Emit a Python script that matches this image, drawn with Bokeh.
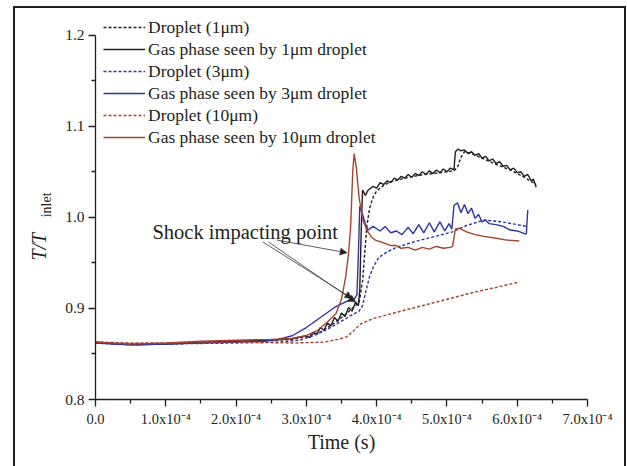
import numpy as np
from bokeh.plotting import figure
from bokeh.layouts import row
from bokeh.models import (Legend, LegendItem, Label, Arrow, NormalHead,
                          FixedTicker, CustomJSTickFormatter, Range1d)
from bokeh.embed import file_html
from bokeh.resources import INLINE

# ---------------- data (time in units of 1e-4 s) ----------------
t_gas1 = [0.00, 0.30, 0.60, 1.00, 1.50, 2.00, 2.50, 2.80, 3.00, 3.05, 3.10, 3.15, 3.20, 3.25,
          3.30, 3.35, 3.40, 3.45, 3.50, 3.55, 3.60, 3.65, 3.70, 3.74, 3.76, 3.78, 3.80, 3.84,
          3.88, 3.95, 4.00, 4.05, 4.10, 4.15, 4.20, 4.25, 4.30, 4.35, 4.40, 4.45, 4.50, 4.55,
          4.60, 4.65, 4.70, 4.75, 4.80, 4.85, 4.90, 4.95, 5.00, 5.05, 5.10, 5.12, 5.16, 5.20,
          5.25, 5.30, 5.35, 5.40, 5.45, 5.50, 5.55, 5.60, 5.65, 5.70, 5.75, 5.80, 5.85, 5.90,
          5.95, 6.00, 6.05, 6.10, 6.15, 6.20, 6.23, 6.27]
v_gas1 = [0.863, 0.861, 0.860, 0.861, 0.863, 0.864, 0.865, 0.867, 0.870, 0.868, 0.874, 0.871,
          0.879, 0.876, 0.884, 0.881, 0.890, 0.886, 0.895, 0.891, 0.901, 0.897, 0.907, 0.903,
          0.920, 0.985, 1.030, 1.024, 1.030, 1.034, 1.032, 1.038, 1.036, 1.040, 1.038, 1.043,
          1.041, 1.045, 1.043, 1.047, 1.044, 1.048, 1.046, 1.050, 1.047, 1.051, 1.048, 1.052,
          1.049, 1.053, 1.050, 1.054, 1.052, 1.072, 1.075, 1.073, 1.074, 1.070, 1.072, 1.068,
          1.070, 1.065, 1.067, 1.062, 1.064, 1.059, 1.061, 1.056, 1.057, 1.052, 1.054, 1.049,
          1.050, 1.045, 1.047, 1.040, 1.042, 1.033]

t_drop1 = [0.00, 0.30, 0.60, 1.00, 1.50, 2.00, 2.50, 2.80, 3.00, 3.20, 3.40, 3.55, 3.65, 3.75,
           3.80, 3.83, 3.86, 3.90, 3.95, 4.00, 4.10, 4.20, 4.40, 4.60, 4.80, 5.00, 5.10, 5.15,
           5.20, 5.25, 5.35, 5.50, 5.70, 5.90, 6.10, 6.27]
v_drop1 = [0.863, 0.862, 0.861, 0.861, 0.862, 0.864, 0.865, 0.866, 0.869, 0.874, 0.884, 0.893,
           0.900, 0.906, 0.930, 0.960, 0.990, 1.010, 1.022, 1.029, 1.035, 1.039, 1.043, 1.046,
           1.048, 1.050, 1.051, 1.055, 1.066, 1.072, 1.070, 1.065, 1.058, 1.052, 1.044, 1.036]

t_gas3 = [0.00, 0.50, 1.00, 1.50, 2.00, 2.40, 2.60, 2.80, 3.00, 3.20, 3.40, 3.55, 3.68, 3.72,
          3.74, 3.76, 3.80, 3.85, 3.88, 3.95, 4.05, 4.12, 4.20, 4.28, 4.36, 4.45, 4.52, 4.60,
          4.67, 4.75, 4.82, 4.90, 4.97, 5.03, 5.07, 5.10, 5.15, 5.20, 5.25, 5.30, 5.35, 5.40,
          5.45, 5.50, 5.55, 5.60, 5.70, 5.80, 5.90, 6.00, 6.10, 6.13, 6.15]
v_gas3 = [0.862, 0.860, 0.861, 0.862, 0.863, 0.864, 0.866, 0.870, 0.879, 0.890, 0.901, 0.907,
          0.910, 0.915, 0.960, 1.012, 1.003, 0.990, 0.986, 0.990, 0.985, 0.990, 0.983, 0.985,
          0.981, 0.989, 0.982, 0.992, 0.983, 0.994, 0.984, 0.995, 0.985, 0.993, 0.987, 1.013,
          1.016, 1.005, 1.014, 1.004, 1.010, 0.999, 1.003, 0.995, 0.997, 0.993, 0.992, 0.990,
          0.986, 0.985, 0.982, 0.982, 1.008]

t_drop3 = [0.00, 0.50, 1.00, 2.00, 2.60, 2.90, 3.10, 3.30, 3.50, 3.65, 3.75, 3.80, 3.85, 3.90,
           3.95, 4.03, 4.15, 4.28, 4.53, 4.78, 5.08, 5.28, 5.53, 5.78, 6.00, 6.13]
v_drop3 = [0.862, 0.860, 0.861, 0.862, 0.863, 0.865, 0.870, 0.877, 0.886, 0.893, 0.897, 0.903,
           0.920, 0.935, 0.945, 0.956, 0.962, 0.967, 0.973, 0.978, 0.984, 0.991, 0.997, 0.995,
           0.992, 0.990]

t_gas10 = [0.00, 0.50, 1.00, 1.50, 2.00, 2.50, 2.80, 3.00, 3.16, 3.30, 3.42, 3.50, 3.56, 3.60,
           3.63, 3.66, 3.68, 3.71, 3.75, 3.80, 3.86, 3.92, 3.98, 4.10, 4.20, 4.28, 4.35, 4.45,
           4.55, 4.65, 4.75, 4.85, 4.95, 5.05, 5.08, 5.12, 5.17, 5.28, 5.40, 5.53, 5.70, 5.85,
           6.03]
v_gas10 = [0.863, 0.861, 0.862, 0.864, 0.865, 0.866, 0.867, 0.870, 0.876, 0.885, 0.894, 0.910,
           0.935, 0.960, 0.990, 1.050, 1.070, 1.055, 1.022, 0.998, 0.986, 0.979, 0.975, 0.972,
           0.969, 0.969, 0.966, 0.967, 0.964, 0.967, 0.965, 0.968, 0.966, 0.967, 0.968, 0.987,
           0.988, 0.984, 0.981, 0.979, 0.977, 0.975, 0.974]

t_drop10 = [0.00, 0.50, 1.00, 2.00, 2.80, 3.25, 3.45, 3.58, 3.68, 3.77, 3.96, 4.20, 4.50, 4.80,
            5.10, 5.40, 5.70, 6.03]
v_drop10 = [0.863, 0.862, 0.862, 0.863, 0.862, 0.863, 0.866, 0.869, 0.876, 0.883, 0.889, 0.894,
            0.900, 0.906, 0.912, 0.918, 0.923, 0.929]

labels = ["Droplet (1\u03bcm)", "Gas phase seen by 1\u03bcm droplet",
          "Droplet (3\u03bcm)", "Gas phase seen by 3\u03bcm droplet",
          "Droplet (10\u03bcm)", "Gas phase seen by 10\u03bcm droplet"]

x_ticks = [0, 1, 2, 3, 4, 5, 6, 7]
y_ticks = [0.8, 0.9, 1.0, 1.1, 1.2]

annot_text = "Shock impacting point"
annot_pos = (0.81, 0.9836)
arrow_start_t = [2.58, 2.38, 2.46]
arrow_start_v = [0.975, 0.973, 0.973]
arrow_end_t = [3.58, 3.65, 3.70]
arrow_end_v = [0.961, 0.911, 0.907]

S = 1e-4  # seconds per unit

BLACK = "#231f20"
BLUE = "#2b35a8"
RED = "#a8422a"
SERIF = "Liberation Serif"

H = 458
LW = 40  # width of the strip holding the y-axis title

# ---------- strip with the y-axis title ----------
lab = figure(width=LW, height=H, output_backend="svg", toolbar_location=None,
             x_range=Range1d(0, LW), y_range=Range1d(0, H),
             min_border_left=0, min_border_right=0, min_border_top=0, min_border_bottom=0)
lab.axis.visible = False
lab.xgrid.visible = False
lab.ygrid.visible = False
lab.outline_line_color = None
lab.background_fill_color = "white"
lab.border_fill_color = "white"
lab.add_layout(Label(x=23, y=179, text="T/T", angle=np.pi / 2, text_align="center",
                     text_baseline="middle", text_font=SERIF, text_font_style="italic",
                     text_font_size="20px", text_color=BLACK))
lab.add_layout(Label(x=31, y=228, text="inlet", angle=np.pi / 2, text_align="center",
                     text_baseline="middle", text_font=SERIF, text_font_size="14px",
                     text_color=BLACK))

# ---------- main chart ----------
p = figure(width=609 - LW, height=H, output_backend="svg", toolbar_location=None,
           x_range=Range1d(0, 7 * S), y_range=Range1d(0.8, 1.2292),
           min_border_left=80 - LW, min_border_right=37, min_border_top=0, min_border_bottom=67)
p.xgrid.visible = False
p.ygrid.visible = False
p.outline_line_color = None
p.background_fill_color = "white"
p.border_fill_color = "white"

def sec(a):
    return [v * S for v in a]

dash = "3 2"
r_d1 = p.line(sec(t_drop1), v_drop1, line_color=BLACK, line_width=1.4, line_dash=dash)
r_g1 = p.line(sec(t_gas1), v_gas1, line_color=BLACK, line_width=1.4)
r_d3 = p.line(sec(t_drop3), v_drop3, line_color=BLUE, line_width=1.4, line_dash=dash)
r_g3 = p.line(sec(t_gas3), v_gas3, line_color=BLUE, line_width=1.4)
r_d10 = p.line(sec(t_drop10), v_drop10, line_color=RED, line_width=1.4, line_dash=dash)
r_g10 = p.line(sec(t_gas10), v_gas10, line_color=RED, line_width=1.4)

legend = Legend(items=[LegendItem(label=l, renderers=[r]) for l, r in
                       zip(labels, [r_d1, r_g1, r_d3, r_g3, r_d10, r_g10])])
legend.location = (8, 251)
legend.margin = 0
legend.padding = 0
legend.spacing = 0
legend.glyph_width = 42
legend.glyph_height = 22
legend.label_height = 22
legend.label_standoff = 3
legend.label_text_line_height = 1.0
legend.border_line_color = None
legend.background_fill_alpha = 0
legend.label_text_font = SERIF
legend.label_text_font_size = "17.5px"
legend.label_text_color = BLACK
p.add_layout(legend)

# axes
xa = p.xaxis[0]
xa.ticker = FixedTicker(ticks=[v * S for v in x_ticks],
                        minor_ticks=[(v + 0.5) * S for v in x_ticks[:-1]])
xa.formatter = CustomJSTickFormatter(code="""
if (Math.abs(tick) < 1e-12) return "0.0";
return (tick*1e4).toFixed(1) + "x10\u207b\u2074";
""")
xa.axis_label = "Time (s)"
xa.axis_label_text_font = SERIF
xa.axis_label_text_font_style = "normal"
xa.axis_label_text_font_size = "20px"
xa.axis_label_text_color = BLACK
xa.axis_label_standoff = 1
ya = p.yaxis[0]
ya.ticker = FixedTicker(ticks=y_ticks, minor_ticks=[0.85, 0.95, 1.05, 1.15])
ya.formatter = CustomJSTickFormatter(code="return tick.toFixed(1);")
ya.bounds = (0.8, 1.2)
for ax in (xa, ya):
    ax.axis_line_color = BLACK
    ax.axis_line_width = 1.3
    ax.major_tick_line_color = BLACK
    ax.minor_tick_line_color = BLACK
    ax.major_tick_line_width = 1.3
    ax.minor_tick_line_width = 1.3
    ax.major_tick_in = 0
    ax.major_tick_out = 7
    ax.minor_tick_in = 0
    ax.minor_tick_out = 4
    ax.major_label_text_font = SERIF
    ax.major_label_text_color = BLACK
xa.major_label_text_font_size = "14.5px"
xa.major_label_standoff = 4
ya.major_label_text_font_size = "15.5px"
ya.major_label_standoff = 4

# annotation
p.add_layout(Label(x=annot_pos[0] * S, y=annot_pos[1], text=annot_text, text_font=SERIF,
                   text_font_size="20.5px", text_color=BLACK, text_baseline="alphabetic"))
for xs, ys, xe, ye in zip(arrow_start_t, arrow_start_v, arrow_end_t, arrow_end_v):
    p.add_layout(Arrow(end=NormalHead(size=7, fill_color=BLACK, line_color=BLACK, line_width=0.5),
                       x_start=xs * S, y_start=ys, x_end=xe * S, y_end=ye,
                       line_color="#333333", line_width=0.8))

layout = row(lab, p, spacing=0)
layout.styles = {"margin-left": "13px", "margin-top": "6px",
                 "border-left": "2px solid #231f20", "border-top": "2px solid #231f20",
                 "border-right": "2px solid #231f20"}

open("out.html", "w").write(file_html(layout, INLINE))
